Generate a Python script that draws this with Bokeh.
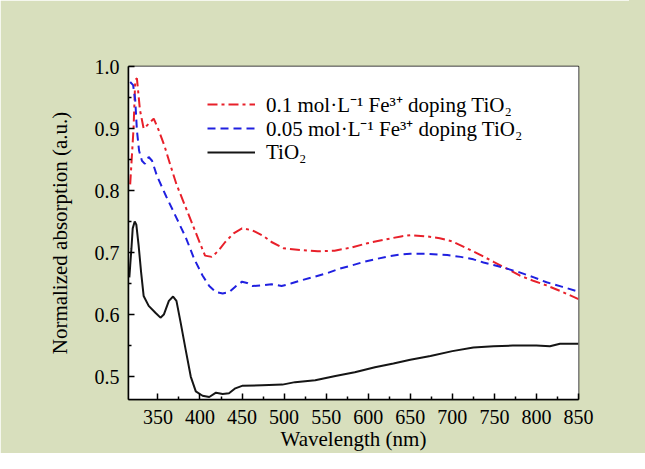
from bokeh.plotting import figure
from bokeh.models import FixedTicker, BoxAnnotation, Legend, LegendItem, Range1d, PrintfTickFormatter
from bokeh.embed import file_html
from bokeh.resources import INLINE

# ---- data ----
red_x = [317, 321, 323, 325, 328.6, 333, 337, 345, 351, 358, 365, 372, 380, 390, 400, 406, 414, 422,
         430, 440, 450, 462, 475, 485, 499, 520, 540, 560, 580, 599, 620, 639, 650, 670, 685, 700,
         717, 735, 749, 765, 780, 797, 812, 830, 850]
red_y = [0.81, 0.90, 0.978, 0.981, 0.93, 0.90, 0.905, 0.916, 0.897, 0.871, 0.84, 0.81, 0.783, 0.749,
         0.715, 0.695, 0.693, 0.703, 0.717, 0.731, 0.739, 0.736, 0.727, 0.717, 0.707, 0.704, 0.702,
         0.703, 0.708, 0.715, 0.721, 0.726, 0.728, 0.726, 0.723, 0.718, 0.707, 0.695, 0.685, 0.674,
         0.663, 0.654, 0.647, 0.637, 0.625]

blue_x = [317, 320.5, 323, 325, 327.6, 331, 334.5, 339, 343, 349, 360, 372, 383.5, 393, 403, 411, 419,
          427, 434.5, 442, 450, 456, 462, 474, 485, 497, 508, 520, 536, 552, 566, 580, 595, 611, 625,
          639, 650, 670, 694, 710, 725, 737, 749, 765, 780, 797, 812, 830, 850]
blue_y = [0.975, 0.97, 0.946, 0.897, 0.864, 0.848, 0.843, 0.854, 0.848, 0.823, 0.79, 0.756, 0.723,
          0.69, 0.663, 0.646, 0.636, 0.634, 0.636, 0.645, 0.653, 0.651, 0.646, 0.647, 0.649, 0.646,
          0.65, 0.655, 0.661, 0.667, 0.674, 0.679, 0.685, 0.69, 0.694, 0.697, 0.698, 0.698, 0.696,
          0.693, 0.689, 0.684, 0.68, 0.674, 0.668, 0.66, 0.652, 0.645, 0.637]

black_x = [316, 317, 318.5, 320, 322.4, 324.3, 327, 330, 333, 339, 347, 353, 357, 363, 368, 372, 377,
           383, 389, 395, 403, 411, 419, 427, 434.5, 442, 450, 474, 498, 513, 537, 561, 584, 608, 630,
           650, 674, 700, 725, 749, 772, 800, 816, 828, 850]
black_y = [0.66, 0.679, 0.707, 0.739, 0.75, 0.745, 0.712, 0.668, 0.63, 0.614, 0.603, 0.595, 0.6,
           0.622, 0.629, 0.622, 0.587, 0.543, 0.5, 0.476, 0.469, 0.467, 0.474, 0.472, 0.473, 0.481,
           0.485, 0.486, 0.487, 0.491, 0.494, 0.501, 0.507, 0.515, 0.521, 0.527, 0.533, 0.541, 0.547,
           0.549, 0.55, 0.55, 0.549, 0.553, 0.553]

labels = ["0.1 mol\u00b7L\u207b\u00b9 Fe\u00b3\u207a doping TiO\u2082",
          "0.05 mol\u00b7L\u207b\u00b9 Fe\u00b3\u207a doping TiO\u2082",
          "TiO\u2082"]

x_ticks = [350, 400, 450, 500, 550, 600, 650, 700, 750, 800, 850]
x_minor = [375, 425, 475, 525, 575, 625, 675, 725, 775, 825]
y_ticks = [0.5, 0.6, 0.7, 0.8, 0.9, 1.0]
y_minor = [0.55, 0.65, 0.75, 0.85, 0.95]

FONT = "Liberation Serif"
GREEN = "#d8dfbd"

p = figure(width=629, height=453, output_backend="svg", toolbar_location=None,
           x_range=Range1d(315, 850), y_range=Range1d(0.463, 1.0),
           min_border_left=128, min_border_right=51, min_border_top=66, min_border_bottom=54,
           styles={"box-shadow": "16px 0px 0px 0px " + GREEN})
p.border_fill_color = GREEN
p.background_fill_color = "white"
p.outline_line_color = "black"
p.outline_line_width = 1.5
p.grid.visible = False

panel = BoxAnnotation(left=25, right=640, top=40, bottom=480,
                      left_units="canvas", right_units="canvas",
                      top_units="canvas", bottom_units="canvas",
                      fill_color="white", fill_alpha=1.0, line_alpha=0, level="underlay")
p.add_layout(panel)

r_red = p.line(red_x, red_y, line_color="#e8202a", line_width=2, line_dash="10 4 3 4")
r_blue = p.line(blue_x, blue_y, line_color="#2020e0", line_width=2, line_dash="8 5")
r_black = p.line(black_x, black_y, line_color="#151515", line_width=2)

# one legend per row, so that the rows keep the reference's 24px spacing
for lab, rend, yoff in ((labels[0], r_red, 280), (labels[1], r_blue, 256), (labels[2], r_black, 232)):
    lg = Legend(items=[LegendItem(label=lab, renderers=[rend])], location=(79, yoff))
    lg.padding = 0
    lg.margin = 0
    lg.spacing = 0
    lg.border_line_alpha = 0
    lg.background_fill_alpha = 0
    lg.glyph_width = 48
    lg.glyph_height = 30
    lg.label_height = 30
    lg.label_standoff = 11
    lg.label_text_font = FONT
    lg.label_text_font_size = "21px"
    lg.label_text_color = "black"
    p.add_layout(lg)

for ax in (p.xaxis[0], p.yaxis[0]):
    ax.axis_line_width = 1.5
    ax.major_tick_in = 6
    ax.major_tick_out = 0
    ax.minor_tick_in = 3
    ax.minor_tick_out = 0
    ax.major_tick_line_width = 1.5
    ax.minor_tick_line_width = 1.5
    ax.major_label_text_font = FONT
    ax.major_label_text_font_size = "20px"
    ax.major_label_text_color = "black"
    ax.axis_label_text_font = FONT
    ax.axis_label_text_font_size = "21px"
    ax.axis_label_text_font_style = "normal"
    ax.axis_label_text_color = "black"

p.xaxis.ticker = FixedTicker(ticks=x_ticks, minor_ticks=x_minor)
p.yaxis.ticker = FixedTicker(ticks=y_ticks, minor_ticks=y_minor)
p.yaxis.formatter = PrintfTickFormatter(format="%.1f")
p.xaxis.major_label_standoff = 10
p.yaxis.major_label_standoff = 9
p.xaxis.axis_label = "Wavelength (nm)"
p.yaxis.axis_label = "Normalized absorption (a.u.)"
p.xaxis.axis_label_standoff = 0
p.yaxis.axis_label_standoff = 20

open("out.html", "w").write(file_html(p, INLINE))
